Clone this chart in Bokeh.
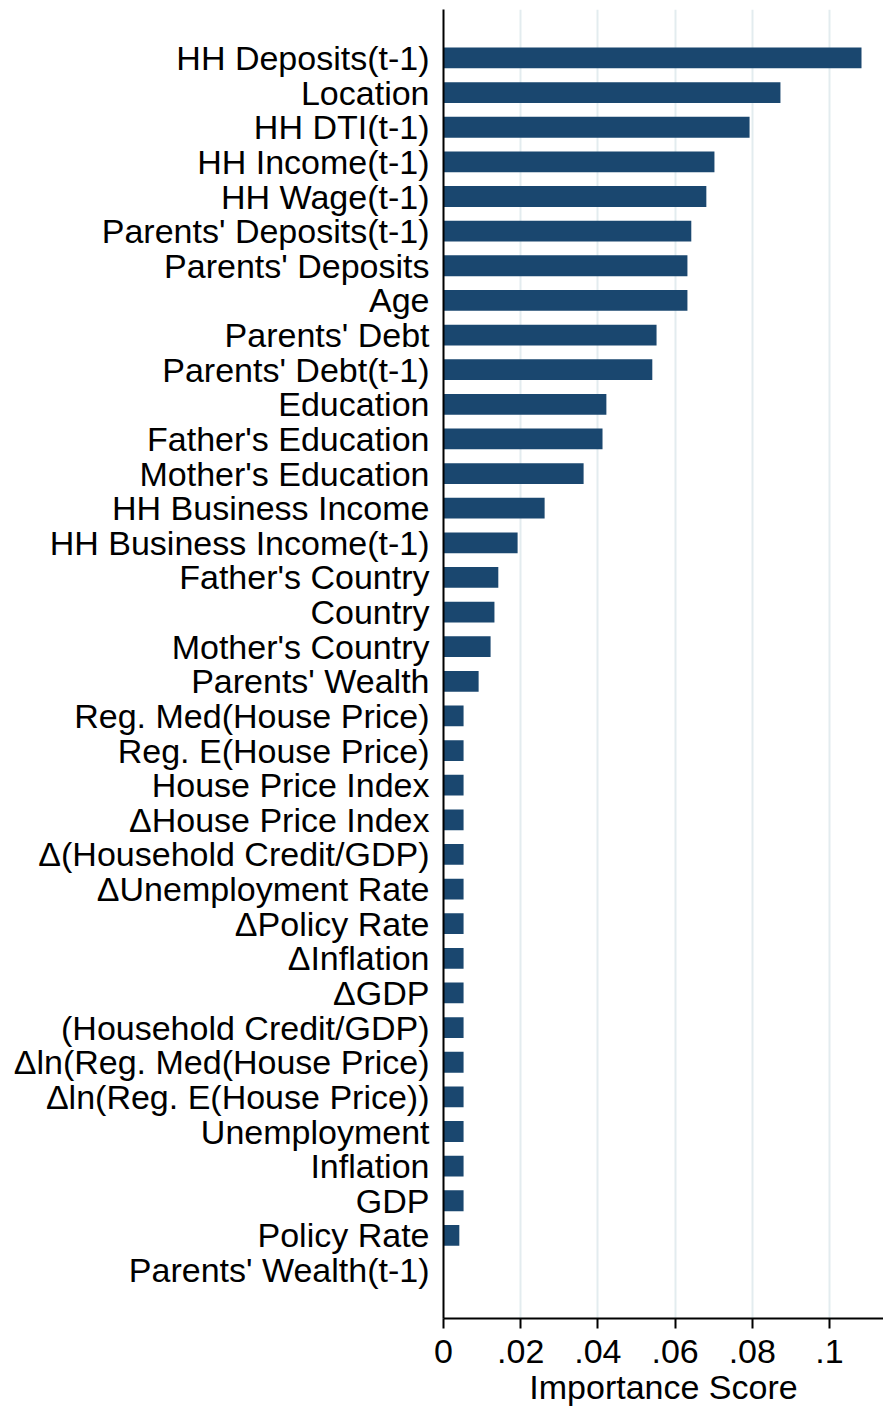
from bokeh.plotting import figure
from bokeh.models import FactorRange, Range1d, FixedTicker, CustomJSTickFormatter, ColumnDataSource
from bokeh.embed import file_html
from bokeh.resources import INLINE

labels = [
    "HH Deposits(t-1)", "Location", "HH DTI(t-1)", "HH Income(t-1)", "HH Wage(t-1)",
    "Parents' Deposits(t-1)", "Parents' Deposits", "Age", "Parents' Debt", "Parents' Debt(t-1)",
    "Education", "Father's Education", "Mother's Education", "HH Business Income",
    "HH Business Income(t-1)", "Father's Country", "Country", "Mother's Country",
    "Parents' Wealth", "Reg. Med(House Price)", "Reg. E(House Price)", "House Price Index",
    "\u0394House Price Index", "\u0394(Household Credit/GDP)", "\u0394Unemployment Rate",
    "\u0394Policy Rate", "\u0394Inflation", "\u0394GDP", "(Household Credit/GDP)",
    "\u0394ln(Reg. Med(House Price)", "\u0394ln(Reg. E(House Price))", "Unemployment",
    "Inflation", "GDP", "Policy Rate", "Parents' Wealth(t-1)",
]
scores = [
    0.1083, 0.0873, 0.0793, 0.0702, 0.0681,
    0.0642, 0.0632, 0.0632, 0.0552, 0.0541,
    0.0422, 0.0412, 0.0363, 0.0262,
    0.0192, 0.0142, 0.0132, 0.0122,
    0.0091, 0.0052, 0.0052, 0.0052,
    0.0052, 0.0052, 0.0052,
    0.0052, 0.0052, 0.0052, 0.0052,
    0.0052, 0.0052, 0.0052,
    0.0052, 0.0052, 0.0041, 0.0,
]
x_ticks = [0, 0.02, 0.04, 0.06, 0.08, 0.1]
x_title = "Importance Score"

FONT = "Liberation Sans"

src = ColumnDataSource(data=dict(label=labels, score=scores))

p = figure(
    width=883, height=1408,
    y_range=FactorRange(factors=list(reversed(labels)), range_padding=0.9, range_padding_units="absolute"),
    x_range=Range1d(0, 0.114),
    output_backend="svg", toolbar_location=None,
    min_border_left=443, min_border_right=0, min_border_top=9, min_border_bottom=90,
)
p.outline_line_color = None
p.background_fill_color = "white"
p.border_fill_color = "white"

p.hbar(y="label", right="score", left=0, height=0.6, source=src,
       fill_color="#1a476f", line_color=None)

# grid
p.ygrid.grid_line_color = None
p.xgrid.grid_line_color = "#e3ecef"
p.xgrid.grid_line_width = 2
p.xgrid.ticker = FixedTicker(ticks=x_ticks)

# x axis
xa = p.xaxis[0]
xa.ticker = FixedTicker(ticks=x_ticks)
xa.formatter = CustomJSTickFormatter(code="""
if (tick == 0) return "0";
let s = tick.toFixed(2).replace(/0+$/, '');
return s.replace(/^0/, '');
""")
xa.axis_label = x_title
xa.axis_label_text_font = FONT
xa.axis_label_text_font_size = "34px"
xa.axis_label_text_font_style = "normal"
xa.axis_label_text_color = "black"
xa.axis_label_standoff = 2
xa.major_label_text_font = FONT
xa.major_label_text_font_size = "34px"
xa.major_label_text_color = "black"
xa.major_label_standoff = 11
xa.axis_line_width = 2
xa.axis_line_color = "black"
xa.major_tick_line_width = 2
xa.major_tick_line_color = "black"
xa.major_tick_out = 10
xa.major_tick_in = 0
xa.minor_tick_line_color = None

# y axis
ya = p.yaxis[0]
ya.major_label_text_font = FONT
ya.major_label_text_font_size = "34px"
ya.major_label_text_color = "black"
ya.major_label_standoff = 14
ya.axis_line_width = 2
ya.axis_line_color = "black"
ya.major_tick_line_color = None
ya.minor_tick_line_color = None
ya.major_tick_out = 0
ya.major_tick_in = 0
ya.group_text_font_size = "0px"

open("out.html", "w").write(file_html(p, INLINE))
